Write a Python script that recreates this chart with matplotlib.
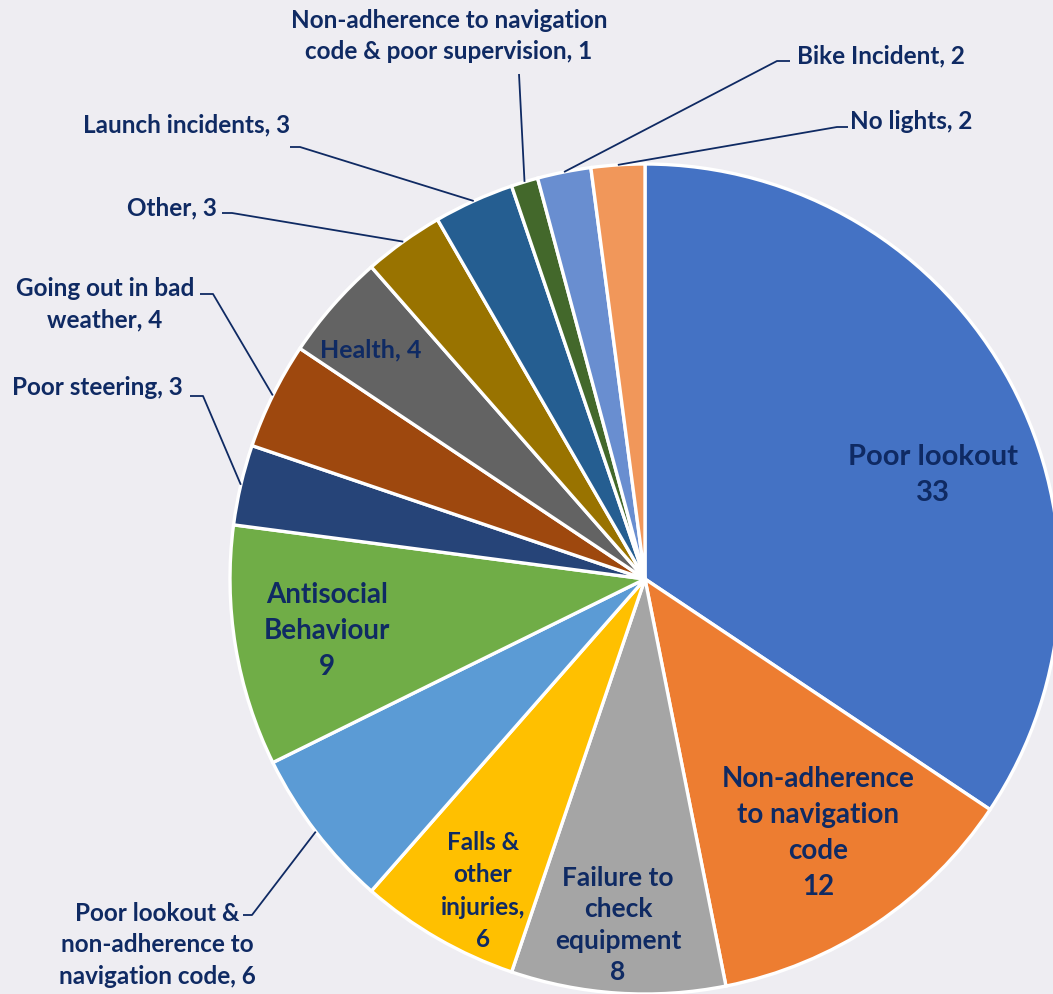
import numpy as np
import matplotlib.pyplot as plt

# Data
categories = ['Poor lookout', 'Non-adherence to navigation code', 'Failure to check equipment',
              'Falls & other injuries', 'Poor lookout & non-adherence to navigation code',
              'Antisocial Behaviour', 'Poor steering', 'Going out in bad weather', 'Health',
              'Other', 'Launch incidents', 'Non-adherence to navigation code & poor supervision',
              'Bike Incident', 'No lights']
counts = [33, 12, 8, 6, 6, 9, 3, 4, 4, 3, 3, 1, 2, 2]
colors = ['#4472C4', '#ED7D31', '#A5A5A5', '#FFC000', '#5B9BD5', '#70AD47', '#264478',
          '#9E480E', '#636363', '#997300', '#255E91', '#43682B', '#698ED0', '#F1975A']
label_texts = ['Poor lookout\n33', 'Non-adherence\nto navigation\ncode\n12',
               'Failure to\ncheck\nequipment\n8', 'Falls &\nother\ninjuries,\n6',
               'Poor lookout &\nnon-adherence to\nnavigation code, 6',
               'Antisocial\nBehaviour\n9', 'Poor steering, 3', 'Going out in bad\nweather, 4',
               'Health, 4', 'Other, 3', 'Launch incidents, 3',
               'Non-adherence to navigation\ncode & poor supervision, 1',
               'Bike Incident, 2', 'No lights, 2']

W, H = 1053, 995
bg = '#EEEDF2'
txt_color = '#0F2A63'
plt.rcParams['font.family'] = ['Lato', 'DejaVu Sans']

fig = plt.figure(figsize=(W / 100, H / 100), dpi=100, facecolor=bg)
ax = fig.add_axes([0, 0, 1, 1])
ax.set_facecolor(bg)
ax.axis('off')

cx, cy, R = 645, H - 580, 415
wedges, _ = ax.pie(counts, colors=colors, startangle=90, counterclock=False,
                   center=(cx, cy), radius=R,
                   wedgeprops=dict(edgecolor='white', linewidth=2.4))
ax.set_xlim(0, W)
ax.set_ylim(0, H)
ax.set_aspect('equal')

# label layout (image pixel coords, y down): x, y, ha, elbow, leader end, font size, line spacing
layout = {
    0: (933, 475, 'center', None, None, 21, 1.48),
    1: (818, 833, 'center', None, None, 20, 1.47),
    2: (618, 925, 'center', None, None, 19, 1.38),
    3: (483, 891, 'center', None, None, 17.5, 1.5),
    4: (157, 945, 'center', (252, 916), (243, 916), 17.5, 1.47),
    5: (327, 631, 'center', None, None, 20, 1.47),
    6: (183, 388, 'right', (203, 397), (190, 397), 17.5, 1.47),
    7: (105, 304, 'center', (213, 295), (200, 295), 17.5, 1.47),
    8: (371, 350, 'center', None, None, 18, 1.47),
    9: (217, 208, 'right', (232, 214), (222, 214), 17.5, 1.47),
    10: (290, 125, 'right', (300, 148), (290, 148), 17.5, 1.47),
    11: (449, 36, 'center', (519, 75), None, 17.5, 1.45),
    12: (797, 56, 'left', (777, 62), (790, 62), 17.5, 1.47),
    13: (850, 122, 'left', (837, 128), (848, 128), 17.5, 1.47),
}

for i, w in enumerate(wedges):
    x, y, ha, elbow, end, fs, ls = layout[i]
    ax.text(x, H - y, label_texts[i], ha=ha, va='center', fontsize=fs,
            fontweight='bold', color=txt_color, linespacing=ls, multialignment='center')
    if elbow is not None:
        # leader starts at the wedge rim, mid-angle
        ang = np.deg2rad((w.theta1 + w.theta2) / 2)
        px, py = cx + R * np.cos(ang), cy + R * np.sin(ang)
        xs = [px, elbow[0]]
        ys = [py, H - elbow[1]]
        if end is not None:
            xs.append(end[0])
            ys.append(H - end[1])
        ax.plot(xs, ys, color=txt_color, lw=1.3, solid_capstyle='butt')

fig.savefig('out.png', dpi=100, facecolor=bg)
